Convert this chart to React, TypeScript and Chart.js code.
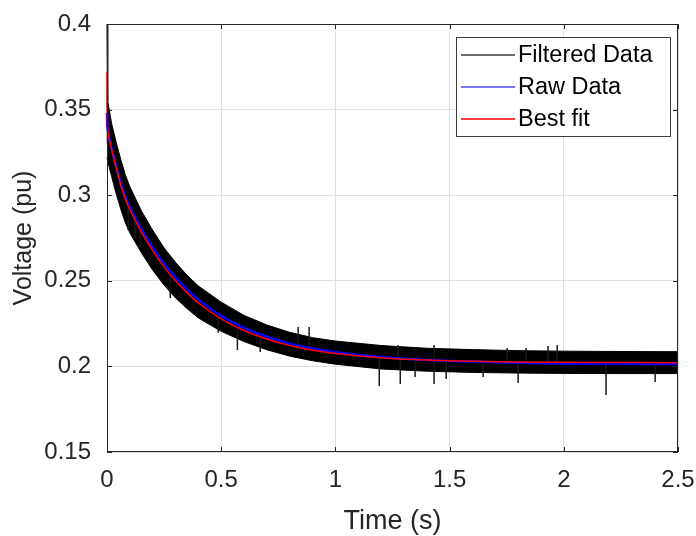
import React, { useEffect, useRef } from 'react';
import { Chart, registerables } from 'chart.js';

Chart.register(...registerables);

// ---- data ----
const timeValues = [0, 0.003, 0.02, 0.04, 0.06, 0.08, 0.1, 0.15, 0.2, 0.25, 0.3, 0.35, 0.4, 0.5, 0.6, 0.7, 0.8, 0.9, 1.0, 1.2, 1.4, 1.6, 1.8, 2.0, 2.25, 2.5];
const fitValues = [0.372, 0.338, 0.327, 0.316, 0.306, 0.298, 0.2915, 0.2786, 0.2676, 0.258, 0.25, 0.2431, 0.2371, 0.2278, 0.221, 0.216, 0.2122, 0.2095, 0.2076, 0.2051, 0.2037, 0.203, 0.2026, 0.2024, 0.2023, 0.2022];
const rawValues = [0.348, 0.339, 0.3275, 0.3168, 0.307, 0.2992, 0.293, 0.2803, 0.2695, 0.26, 0.252, 0.245, 0.239, 0.2295, 0.2225, 0.2173, 0.2133, 0.2104, 0.2083, 0.2055, 0.2038, 0.2028, 0.2021, 0.2017, 0.2015, 0.2014];
const filteredUpper = [0.41, 0.355, 0.342, 0.331, 0.321, 0.312, 0.305, 0.291, 0.2795, 0.2692, 0.2608, 0.2533, 0.247, 0.2375, 0.2298, 0.2242, 0.2199, 0.2168, 0.2148, 0.2122, 0.2106, 0.2098, 0.2092, 0.2089, 0.2087, 0.2086];
const filteredLower = [0.322, 0.32, 0.311, 0.301, 0.292, 0.284, 0.278, 0.2665, 0.2562, 0.2475, 0.24, 0.2338, 0.2283, 0.2205, 0.2145, 0.2097, 0.206, 0.2033, 0.2013, 0.1985, 0.1972, 0.1965, 0.1961, 0.1959, 0.1958, 0.1958];

// noise spikes of the filtered data (time, value inside band, spike tip)
const spikeTimes = [0.002, 0.093, 0.124, 0.146, 0.277, 0.487, 0.571, 0.671, 1.192, 1.284, 1.349, 1.432, 1.485, 1.647, 1.8, 2.185, 2.4, 0.837, 0.885, 1.275, 1.432, 1.752, 1.835, 1.931, 1.971];
const spikeBases = [0.33, 0.293, 0.285, 0.279, 0.254, 0.229, 0.223, 0.217, 0.205, 0.2045, 0.204, 0.2035, 0.2033, 0.2028, 0.2026, 0.2023, 0.2022, 0.2113, 0.2098, 0.2045, 0.2035, 0.2027, 0.2025, 0.2025, 0.2024];
const spikeTips = [0.41, 0.2797, 0.275, 0.2692, 0.24, 0.2196, 0.2096, 0.2084, 0.1886, 0.1897, 0.1938, 0.1897, 0.1926, 0.1938, 0.1903, 0.1833, 0.1909, 0.223, 0.223, 0.2125, 0.2125, 0.2107, 0.2107, 0.2119, 0.2125];

const xTickValues = [0, 0.5, 1, 1.5, 2, 2.5];
const xTickLabels = ['0', '0.5', '1', '1.5', '2', '2.5'];
const yTickValues = [0.15, 0.2, 0.25, 0.3, 0.35, 0.4];
const yTickLabels = ['0.15', '0.2', '0.25', '0.3', '0.35', '0.4'];
const seriesLabels = ['Filtered Data', 'Raw Data', 'Best fit'];
const legendColors = ['#3a3a3a', '#7878ff', '#ff3c3c'];
const xTitle = 'Time (s)';
const yTitle = 'Voltage (pu)';

const FONT = '"Liberation Sans", Arial, Helvetica, sans-serif';
const AXIS_COLOR = '#262626';
const CLIP = { left: 2, top: 0, right: 0, bottom: 0 };

const boxPlugin = {
  id: 'matlabBox',
  afterDraw(chart: any) {
    const { ctx, chartArea: a, scales } = chart;
    ctx.save();
    ctx.strokeStyle = AXIS_COLOR;
    ctx.lineWidth = 1;
    ctx.strokeRect(a.left + 0.5, a.top + 0.5, a.right - a.left - 1, a.bottom - a.top - 1);
    const tl = 5;
    ctx.beginPath();
    for (const v of xTickValues) {
      const px = Math.round(scales.x.getPixelForValue(v)) + 0.5;
      ctx.moveTo(px, a.bottom); ctx.lineTo(px, a.bottom - tl);
      ctx.moveTo(px, a.top); ctx.lineTo(px, a.top + tl);
    }
    for (const v of yTickValues) {
      const py = Math.round(scales.y.getPixelForValue(v)) + 0.5;
      ctx.moveTo(a.left, py); ctx.lineTo(a.left + tl, py);
      ctx.moveTo(a.right, py); ctx.lineTo(a.right - tl, py);
    }
    ctx.stroke();

    // legend
    const lw = 214, lh = 99;
    const lx = a.right - 222, ly = a.top + 13;
    ctx.fillStyle = '#ffffff';
    ctx.fillRect(lx, ly, lw, lh);
    ctx.strokeStyle = '#3c3c3c';
    ctx.lineWidth = 1;
    ctx.strokeRect(lx + 0.5, ly + 0.5, lw, lh);
    ctx.font = `23.5px ${FONT}`;
    ctx.textBaseline = 'middle';
    ctx.textAlign = 'left';
    seriesLabels.forEach((label, i) => {
      const y = ly + 18 + i * 32;
      ctx.strokeStyle = legendColors[i];
      ctx.lineWidth = i === 0 ? 1.5 : 2;
      ctx.beginPath();
      ctx.moveTo(lx + 5, y);
      ctx.lineTo(lx + 59, y);
      ctx.stroke();
      ctx.fillStyle = '#000000';
      ctx.fillText(label, lx + 62, y + 1);
    });
    ctx.restore();
  },
};

export default function App() {
  const canvasRef = useRef<HTMLCanvasElement | null>(null);

  useEffect(() => {
    const canvas = canvasRef.current;
    if (!canvas) return;
    const pts = (vals: number[]) => timeValues.map((t, i) => ({ x: t, y: vals[i] }));
    const spikeData: any[] = [];
    spikeTimes.forEach((t, i) => {
      spikeData.push({ x: t, y: spikeBases[i] });
      spikeData.push({ x: t, y: spikeTips[i] });
      spikeData.push({ x: t, y: null });
    });

    const chart = new Chart(canvas, {
      type: 'line',
      data: {
        datasets: [
          {
            label: seriesLabels[0],
            data: pts(filteredUpper),
            borderColor: '#000000',
            backgroundColor: '#000000',
            borderWidth: 1,
            pointRadius: 0,
            tension: 0,
            fill: '+1',
            order: 4,
            clip: CLIP,
          } as any,
          {
            label: seriesLabels[0] + ' lower',
            data: pts(filteredLower),
            borderColor: '#000000',
            backgroundColor: '#000000',
            borderWidth: 1,
            pointRadius: 0,
            tension: 0,
            fill: false,
            order: 5,
            clip: CLIP,
          },
          {
            label: seriesLabels[0] + ' spikes',
            data: spikeData,
            borderColor: '#1a1a1a',
            borderWidth: 1.5,
            pointRadius: 0,
            spanGaps: false,
            fill: false,
            order: 3,
            clip: CLIP,
          },
          {
            label: seriesLabels[1],
            data: pts(rawValues),
            borderColor: '#0000ff',
            borderWidth: 2.5,
            pointRadius: 0,
            tension: 0.3,
            fill: false,
            order: 1,
            clip: CLIP,
          },
          {
            label: seriesLabels[2],
            data: pts(fitValues),
            borderColor: '#ff0000',
            borderWidth: 1.5,
            pointRadius: 0,
            tension: 0.3,
            fill: false,
            order: 0,
            clip: CLIP,
          },
        ],
      },
      options: {
        responsive: false,
        animation: false,
        events: [],
        layout: { padding: { top: 24, right: 18, left: 0, bottom: 0 } },
        plugins: {
          legend: { display: false },
          tooltip: { enabled: false },
          title: { display: false },
        },
        scales: {
          x: {
            type: 'linear',
            min: 0,
            max: 2.5,
            afterFit: (s: any) => { s.height = 84; s.paddingLeft = 0; s.paddingRight = 0; },
            afterBuildTicks: (s: any) => { s.ticks = xTickValues.map((v) => ({ value: v })); },
            ticks: {
              callback: (v: any) => xTickLabels[xTickValues.indexOf(Number(v))] ?? '',
              color: AXIS_COLOR,
              font: { family: FONT, size: 24 },
              padding: 14,
              maxRotation: 0,
              autoSkip: false,
            },
            grid: { color: '#e0e0e0', lineWidth: 1, drawTicks: false },
            border: { display: false },
            title: {
              display: true,
              text: xTitle,
              color: AXIS_COLOR,
              font: { family: FONT, size: 27, lineHeight: 1 },
              padding: { top: 1, bottom: 1 },
            },
          },
          y: {
            type: 'linear',
            min: 0.15,
            max: 0.4,
            afterFit: (s: any) => { s.width = 107; s.paddingTop = 0; s.paddingBottom = 0; },
            afterBuildTicks: (s: any) => { s.ticks = yTickValues.map((v) => ({ value: v })); },
            ticks: {
              callback: (v: any) => {
                const idx = yTickValues.findIndex((t) => Math.abs(t - Number(v)) < 1e-9);
                return idx >= 0 ? yTickLabels[idx] : '';
              },
              color: AXIS_COLOR,
              font: { family: FONT, size: 24 },
              padding: 16,
              autoSkip: false,
            },
            grid: { color: '#e0e0e0', lineWidth: 1, drawTicks: false },
            border: { display: false },
            title: {
              display: true,
              text: yTitle,
              color: AXIS_COLOR,
              font: { family: FONT, size: 25, lineHeight: 1 },
              padding: { top: 12, bottom: 0 },
            },
          },
        },
      },
      plugins: [boxPlugin],
    });
    return () => chart.destroy();
  }, []);

  return (
    <div style={{ position: 'fixed', left: 0, top: 0, width: 696, height: 536, background: '#ffffff' }}>
      <canvas ref={canvasRef} width={696} height={536} style={{ display: 'block', width: 696, height: 536 }} />
    </div>
  );
}
